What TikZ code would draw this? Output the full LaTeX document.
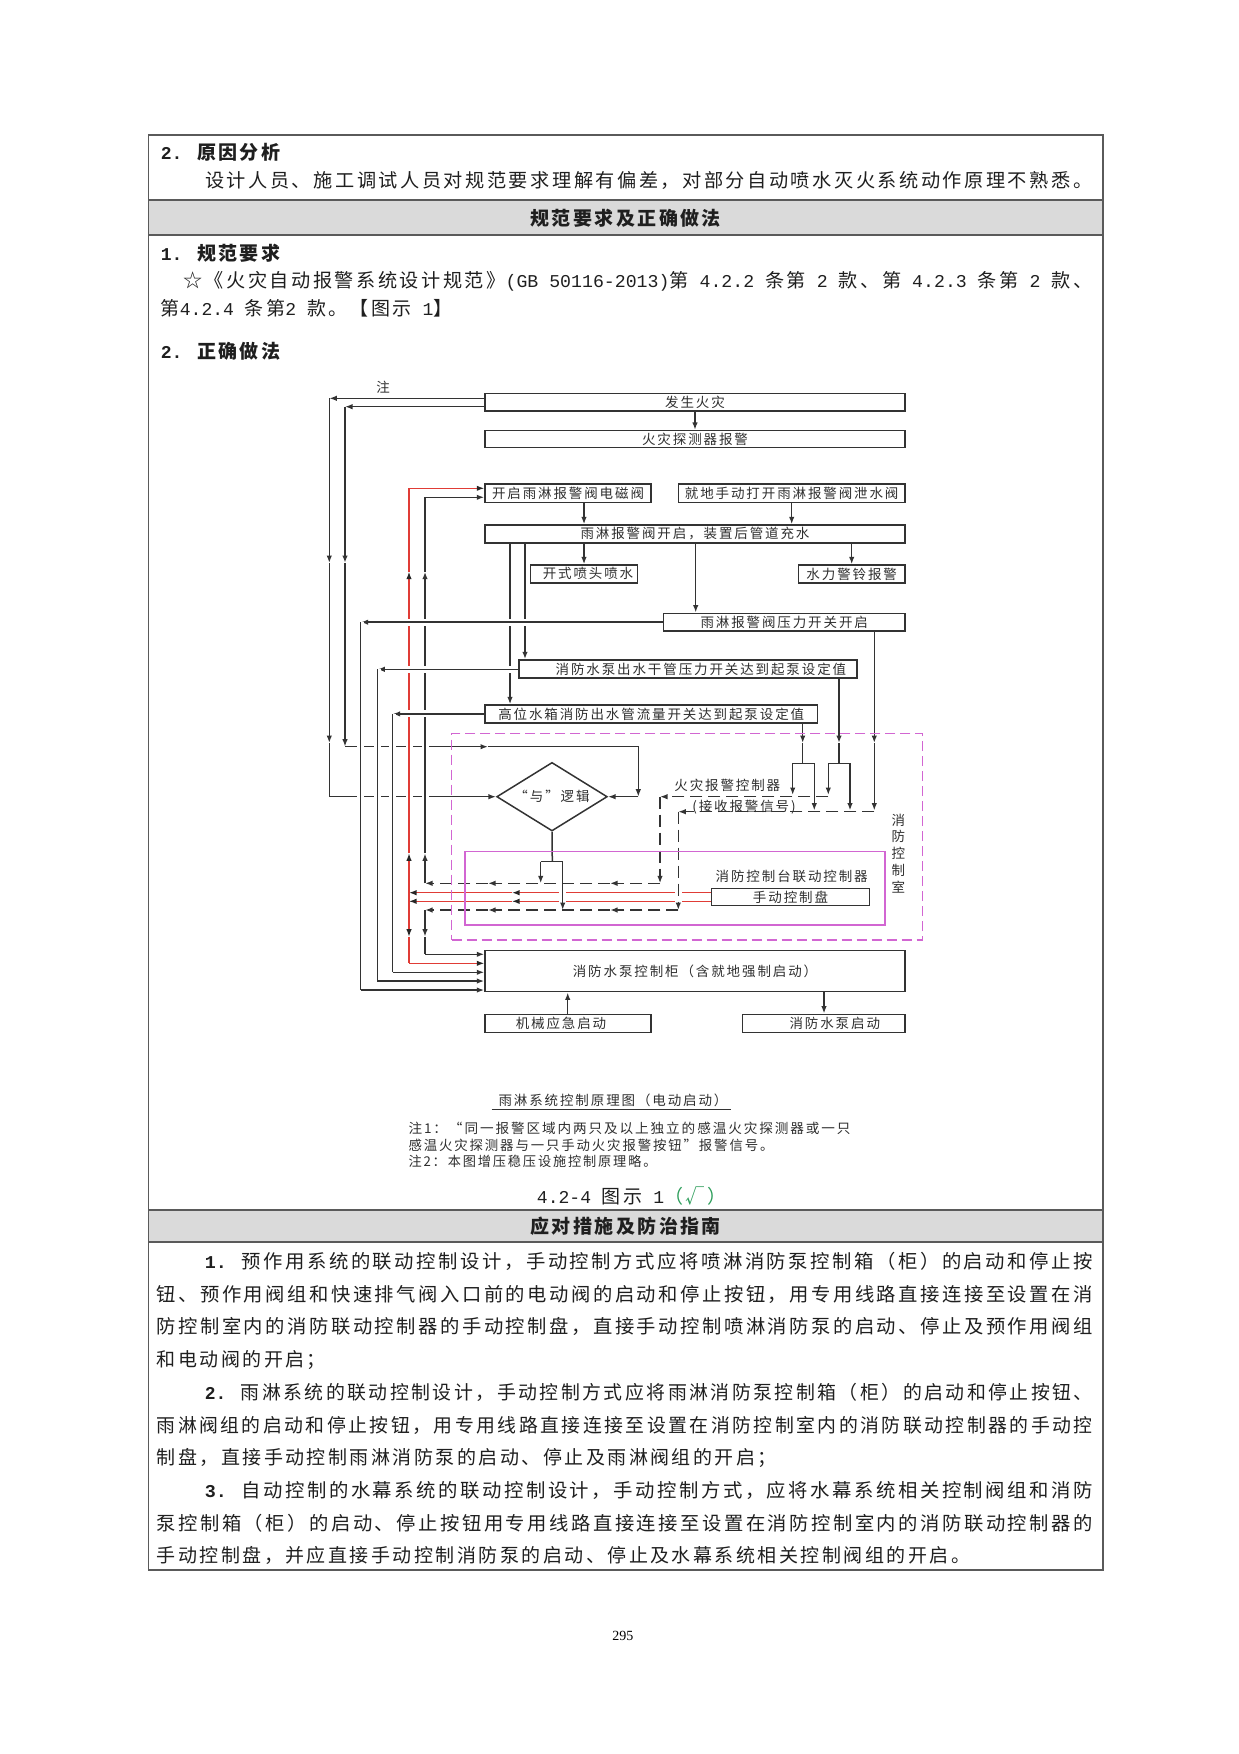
\documentclass[tikz,border=0pt]{standalone}
\usepackage{fontspec}
\usepackage{graphicx}
\usetikzlibrary{arrows.meta,shapes.geometric}
\newfontfamily\cjk[LetterSpace=13]{Noto Sans CJK SC}
\newfontfamily\cjkd[LetterSpace=14]{Noto Sans CJK SC}
\newfontfamily\lat[Scale=0.95]{Liberation Mono}
\pgfdeclarelayer{background}
\pgfsetlayers{background,main}
\definecolor{mag}{HTML}{D266D2}
\definecolor{redl}{HTML}{E03C36}
\definecolor{grayfill}{HTML}{DADADA}
\definecolor{bordc}{HTML}{5A5A5A}
\definecolor{okgreen}{HTML}{2E9E5B}
\newcommand\fitw[2]{\resizebox{#1pt}{\height}{#2}}
\tikzset{
  txt/.style={inner sep=0pt, font=\cjk\fontsize{19}{22}\selectfont, text=black!88},
  dtxt/.style={inner sep=0pt, font=\cjkd\fontsize{13.5}{16.7}\selectfont, text=black!82},
  box/.style={draw=black!80, line width=1.5pt, inner sep=0pt, font=\cjkd\fontsize{13.5}{15}\selectfont, text=black!82},
  ln/.style={line width=1.5pt, draw=black!80},
  arr/.style={ln, -{Latex[length=7.5pt,width=5.5pt]}},
  rln/.style={line width=1.3pt, draw=redl},
  rarr/.style={rln, -{Latex[length=7.5pt,width=5.5pt,color=black!85]}},
  dsh/.style={dash pattern=on 12pt off 6pt},
  wcase/.style={preaction={draw=white, line width=7pt, solid, arrows=-}},
  magd/.style={draw=mag, line width=1.4pt, dash pattern=on 10pt off 5pt, inner sep=0pt},
  mags/.style={draw=mag, line width=1.4pt, inner sep=0pt},
  tbl/.style={draw=bordc, line width=1.6pt}
}
\begin{document}
\begin{tikzpicture}[x=1pt,y=-1pt]
\useasboundingbox (0,0) rectangle (1239,1754);
% ---------- table ----------
\fill[grayfill] (148.3,200) rectangle (1103,235);
\fill[grayfill] (148.3,1210) rectangle (1103,1242);
\draw[tbl] (148.3,135) rectangle (1103,1570);
\draw[tbl] (148.3,200) -- (1103,200);
\draw[tbl] (148.3,235) -- (1103,235);
\draw[tbl] (148.3,1210) -- (1103,1210);
\draw[tbl] (148.3,1242) -- (1103,1242);
% ---------- table text ----------
\node[txt,anchor=west] (t1) at (160.7,152.3) {\bfseries{\lat 2. }原因分析};
\node[txt,anchor=west] (t2) at (205,180.7) {\fitw{887}{设计人员、施工调试人员对规范要求理解有偏差，对部分自动喷水灭火系统动作原理不熟悉。}};
\node[txt] (h1) at (625.6,218.3) {\bfseries 规范要求及正确做法};
\node[txt,anchor=west] (t3) at (160.7,253.3) {\bfseries{\lat 1. }规范要求};
\node[txt,anchor=west] (t4) at (183,281.7) {\fitw{909}{☆《火灾自动报警系统设计规范》{\lat(GB 50116-2013)}第{\lat\ 4.2.2 }条第{\lat\ 2 }款、第{\lat\ 4.2.3 }条第{\lat\ 2 }款、}};
\node[txt,anchor=west] (t5) at (160.7,308.3) {第{\lat 4.2.4 }条第{\lat 2 }款。【图示{\lat\ 1}】};
\node[txt,anchor=west] (t6) at (160.7,351.7) {\bfseries{\lat 2. }正确做法};
\node[txt] (figno) at (631.5,1195.7) {{\lat 4.2-4 }图示{\lat\ 1}\textcolor{okgreen}{（√）}};
\node[txt] (h2) at (625.6,1226.3) {\bfseries 应对措施及防治指南};
\node[txt,anchor=west] (p1) at (204.6,1261.5) {\fitw{888}{{\lat\bfseries 1. }预作用系统的联动控制设计，手动控制方式应将喷淋消防泵控制箱（柜）的启动和停止按}};
\node[txt,anchor=west] (p2) at (156.5,1294.2) {\fitw{936}{钮、预作用阀组和快速排气阀入口前的电动阀的启动和停止按钮，用专用线路直接连接至设置在消}};
\node[txt,anchor=west] (p3) at (156.5,1326.9) {\fitw{936}{防控制室内的消防联动控制器的手动控制盘，直接手动控制喷淋消防泵的启动、停止及预作用阀组}};
\node[txt,anchor=west] (p4) at (156.5,1359.6) {和电动阀的开启；};
\node[txt,anchor=west] (p5) at (204.6,1392.3) {\fitw{888}{{\lat\bfseries 2. }雨淋系统的联动控制设计，手动控制方式应将雨淋消防泵控制箱（柜）的启动和停止按钮、}};
\node[txt,anchor=west] (p6) at (156.5,1425) {\fitw{936}{雨淋阀组的启动和停止按钮，用专用线路直接连接至设置在消防控制室内的消防联动控制器的手动控}};
\node[txt,anchor=west] (p7) at (156.5,1457.7) {制盘，直接手动控制雨淋消防泵的启动、停止及雨淋阀组的开启；};
\node[txt,anchor=west] (p8) at (204.6,1490.4) {\fitw{888}{{\lat\bfseries 3. }自动控制的水幕系统的联动控制设计，手动控制方式，应将水幕系统相关控制阀组和消防}};
\node[txt,anchor=west] (p9) at (156.5,1523.1) {\fitw{936}{泵控制箱（柜）的启动、停止按钮用专用线路直接连接至设置在消防控制室内的消防联动控制器的}};
\node[txt,anchor=west] (p10) at (156.5,1555.8) {手动控制盘，并应直接手动控制消防泵的启动、停止及水幕系统相关控制阀组的开启。};
\node[inner sep=0pt,font=\fontspec{Liberation Serif}\fontsize{14}{16}\selectfont] (pg) at (622.8,1636) {295};
% ---------- diagram boxes ----------
\node[box,minimum width=420,minimum height=17.7] (fire) at (695,402.2) {发生火灾};
\node[box,minimum width=420,minimum height=17] (det) at (695,439.2) {火灾探测器报警};
\node[box,minimum width=166,minimum height=18.3] (sol) at (568,493.2) {开启雨淋报警阀电磁阀};
\node[box,minimum width=226.7,minimum height=18.3] (man) at (791.7,493.2) {就地手动打开雨淋报警阀泄水阀};
\node[box,minimum width=420,minimum height=17.7] (open) at (695,533.9) {雨淋报警阀开启，装置后管道充水};
\node[box,minimum width=106.6,minimum height=17.7] (spray) at (584,573.9) {\hspace*{8pt}开式喷头喷水};
\node[box,minimum width=106.7,minimum height=17.7] (bell) at (851.7,573.9) {水力警铃报警};
\node[box,minimum width=241.7,minimum height=17.7] (psw) at (784.2,622.2) {雨淋报警阀压力开关开启};
\node[box,minimum width=337.7,minimum height=18] (pump) at (687.9,669) {\hspace*{26pt}消防水泵出水干管压力开关达到起泵设定值};
\node[box,minimum width=332.3,minimum height=17.7] (tank) at (651.2,713.9) {高位水箱消防出水管流量开关达到起泵设定值};
\node[box,minimum width=157.6,minimum height=17.4] (panel) at (790.5,897) {手动控制盘};
\node[box,minimum width=420,minimum height=41.2] (cab) at (695,971.1) {消防水泵控制柜（含就地强制启动）};
\node[box,minimum width=166,minimum height=18.4] (mech) at (568,1023.5) {\hspace*{-14pt}机械应急启动};
\node[box,minimum width=162.3,minimum height=18.4] (start) at (823.8,1023.5) {\hspace*{22pt}消防水泵启动};
\node[draw=black!80,line width=1.5pt,diamond,aspect=1.6,minimum width=110.6,minimum height=68.6,inner sep=0pt,font=\cjkd\fontsize{13.5}{15}\selectfont,text=black!82] (andl) at (552,796.7) {“与”逻辑};
\node[magd,minimum width=471,minimum height=206.7] (room) at (687.2,836.7) {};
\node[mags,minimum width=420,minimum height=73.3] (cons) at (675,888.4) {};
\node[dtxt] (fac) at (727.3,785) {火灾报警控制器};
\node[dtxt] (facr) at (744,806.7) {(接收报警信号)};
\node[dtxt] (lct) at (791.7,876.7) {消防控制台联动控制器};
\node[dtxt,align=center] (roomlbl) at (898.3,853.3) {消\\防\\控\\制\\室};
\node[dtxt] (zhu) at (383,387) {注};
\node[dtxt] (cap) at (613,1100) {雨淋系统控制原理图（电动启动）};
\draw[line width=1.2pt,black!80] (491.7,1109.3) -- (730.7,1109.3);
\node[dtxt,anchor=west] (n1) at (408.3,1128.7) {\fitw{442}{注1：“同一报警区域内两只及以上独立的感温火灾探测器或一只}};
\node[dtxt,anchor=west] (n2) at (408.3,1145) {\fitw{365}{感温火灾探测器与一只手动火灾报警按钮”报警信号。}};
\node[dtxt,anchor=west] (n3) at (408.3,1161.3) {\fitw{248}{注2：本图增压稳压设施控制原理略。}};
% ---------- connectors ----------
\begin{pgfonlayer}{background}
% top chain
\draw[arr] (fire.south) -- (det.north);
\draw[arr] (584,0 |- sol.south) -- (584,0 |- open.north);
\draw[arr] (man.south) -- (man.south |- open.north);
\draw[arr] (584,0 |- open.south) -- (spray.north);
\draw[arr] (851.7,0 |- open.south) -- (bell.north);
\draw[arr] (695.7,0 |- open.south) -- (695.7,0 |- psw.north);
\draw[arr] (510,0 |- open.south) -- (510,0 |- tank.north);
\draw[arr] (525,0 |- open.south) -- (525,0 |- pump.north);
\draw[arr] (567.7,0 |- mech.north) -- (567.7,0 |- cab.south);
\draw[arr] (824,0 |- cab.south) -- (824,0 |- start.north);
% left loops from fire
\draw[arr] (fire.west |- 0,398.3) -- (329.3,398.3);
\draw[arr] (329.3,398.3) -- (329.3,563);
\draw[arr] (329.3,563) -- (329.3,743);
\draw[arr] (329.3,743) -- (329.3,796.7) -- (andl.west);
\draw[arr] (fire.west |- 0,406.7) -- (345,406.7);
\draw[arr] (345,406.7) -- (345,563);
\draw[arr] (345,563) -- (345,746.7);
\draw[arr] (345,746.7) -- (488,746.7);
\draw[arr] (488,746.7) -- (638.3,746.7) -- (638.3,796.7);
\draw[arr] (638.3,796.7) -- (andl.east);
% red manual lines
\draw[rarr] (panel.west |- 0,892.7) -- (512,892.7);
\draw[rarr] (512,892.7) -- (409,892.7);
\draw[rarr] (panel.west |- 0,901.3) -- (512,901.3);
\draw[rarr] (512,901.3) -- (409,901.3);
\draw[rarr] (409,892.7) -- (409,853.3);
\draw[rarr,wcase] (409,853.3) -- (409,571.7);
\draw[rln] (409,571.7) -- (409,488.3);
\draw[rarr] (409,488.3) -- (sol.west |- 0,488.3);
\draw[rln] (409,892.7) -- (409,901.3);
\draw[rarr] (409,901.3) -- (409,936.7);
\draw[rln] (409,936.7) -- (409,963.3);
\draw[rarr] (409,963.3) -- (cab.west |- 0,963.3);
% black linkage lines
\draw[arr] (425,883.3) -- (425,853.3);
\draw[arr,wcase] (425,853.3) -- (425,571.7);
\draw[ln] (425,571.7) -- (425,497.3);
\draw[arr] (425,497.3) -- (sol.west |- 0,497.3);
\draw[arr] (425,910) -- (425,936.7);
\draw[ln] (425,936.7) -- (425,954.3);
\draw[arr] (425,954.3) -- (cab.west |- 0,954.3);
% switch signal lines to pump cabinet
\draw[arr,wcase] (psw.west) -- (360.7,0 |- psw.west);
\draw[ln,wcase] (360.7,0 |- psw.west) -- (360.7,990);
\draw[arr] (360.7,990) -- (cab.west |- 0,990);
\draw[arr,wcase] (pump.west |- 0,669.3) -- (377.3,669.3);
\draw[ln,wcase] (377.3,669.3) -- (377.3,981);
\draw[arr] (377.3,981) -- (cab.west |- 0,981);
\draw[arr,wcase] (tank.west) -- (392.7,0 |- tank.west);
\draw[ln,wcase] (392.7,0 |- tank.west) -- (392.7,972.3);
\draw[arr] (392.7,972.3) -- (cab.west |- 0,972.3);
% and-logic output
\draw[ln] (andl.south) -- (552.3,861.7);
\draw[ln] (540.7,861.7) -- (562.7,861.7);
\draw[arr] (540.7,861.7) -- (540.7,883.3);
\draw[arr,wcase] (562.7,861.7) -- (562.7,910);
% right side to alarm controller
\draw[arr] (874.3,0 |- psw.south) -- (874.3,743);
\draw[arr] (874.3,743) -- (874.3,810.5);
\draw[arr] (839,0 |- pump.south) -- (839,743);
\draw[ln] (839,743) -- (839,763.3);
\draw[ln] (828.3,763.3) -- (850,763.3);
\draw[arr] (828.3,763.3) -- (828.3,795);
\draw[arr] (850,763.3) -- (850,810.5);
\draw[arr] (802.7,0 |- tank.south) -- (802.7,743);
\draw[ln] (802.7,743) -- (802.7,763.3);
\draw[ln] (792.7,763.3) -- (814.3,763.3);
\draw[arr] (792.7,763.3) -- (792.7,795);
\draw[arr] (814.3,763.3) -- (814.3,810.5);
% dashed controller outputs
\draw[arr,dsh,wcase] (678.3,811.7) -- (678.3,910);
\draw[arr,dsh] (874.3,811.7) -- (678.3,811.7);
\draw[arr,dsh] (828.3,796.7) -- (660,796.7);
\draw[arr,dsh] (660,796.7) -- (660,883.3);
\draw[arr,dsh] (660,883.3) -- (610,883.3);
\draw[arr,dsh] (610,883.3) -- (488,883.3);
\draw[arr,dsh] (488,883.3) -- (425,883.3);
\draw[arr,dsh] (678.3,910) -- (610,910);
\draw[arr,dsh] (610,910) -- (488,910);
\draw[arr,dsh] (488,910) -- (425,910);
\end{pgfonlayer}
\end{tikzpicture}
\end{document}
